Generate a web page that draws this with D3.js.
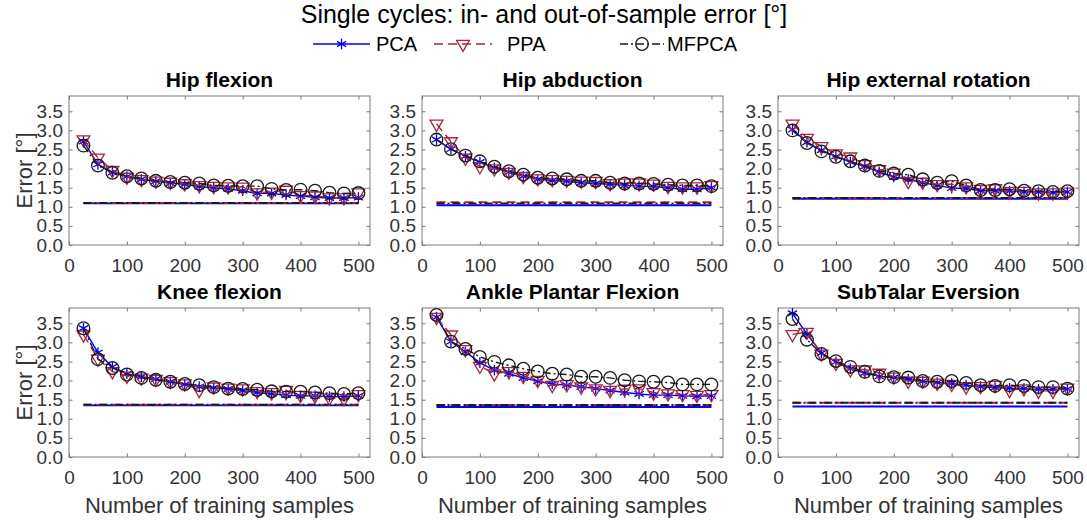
<!DOCTYPE html>
<html>
<head>
<meta charset="utf-8">
<script src="https://d3js.org/d3.v7.min.js"></script>
<style>
  body { margin: 0; background: #fff; }
  text { font-family: "Liberation Sans", Arial, Helvetica, sans-serif; }
</style>
</head>
<body>
<svg id="chart" width="1087" height="524"></svg>
<script>
// number of training samples (x)
var samples = [25, 50, 75, 100, 125, 150, 175, 200, 225, 250, 275, 300, 325, 350, 375, 400, 425, 450, 475, 500];
var joints = ["Hip flexion", "Hip abduction", "Hip external rotation",
              "Knee flexion", "Ankle Plantar Flexion", "SubTalar Eversion"];
var xTicks = [0, 100, 200, 300, 400, 500];
var yTicks = [0, 0.5, 1, 1.5, 2, 2.5, 3, 3.5];

// out-of-sample error per joint
var pcaErr = [
  [2.71, 2.11, 1.90, 1.79, 1.72, 1.67, 1.62, 1.59, 1.53, 1.49, 1.47, 1.42, 1.35, 1.35, 1.31, 1.28, 1.25, 1.23, 1.23, 1.24],
  [2.76, 2.51, 2.32, 2.17, 2.02, 1.91, 1.80, 1.72, 1.69, 1.67, 1.63, 1.61, 1.59, 1.56, 1.54, 1.53, 1.50, 1.46, 1.46, 1.50],
  [3.02, 2.69, 2.48, 2.32, 2.17, 2.06, 1.91, 1.78, 1.72, 1.63, 1.56, 1.49, 1.48, 1.42, 1.42, 1.41, 1.39, 1.39, 1.37, 1.39],
  [3.37, 2.73, 2.36, 2.18, 2.10, 2.04, 1.97, 1.90, 1.84, 1.81, 1.78, 1.74, 1.69, 1.65, 1.62, 1.60, 1.60, 1.58, 1.58, 1.60],
  [3.66, 3.02, 2.75, 2.47, 2.27, 2.18, 2.07, 1.98, 1.91, 1.88, 1.84, 1.79, 1.74, 1.69, 1.65, 1.62, 1.62, 1.60, 1.59, 1.60],
  [3.76, 3.22, 2.72, 2.49, 2.31, 2.20, 2.11, 2.08, 2.03, 1.98, 1.95, 1.92, 1.88, 1.84, 1.82, 1.80, 1.79, 1.77, 1.77, 1.78]
];
var ppaErr = [
  [2.76, 2.28, 1.96, 1.78, 1.72, 1.68, 1.65, 1.61, 1.56, 1.54, 1.53, 1.52, 1.37, 1.39, 1.44, 1.30, 1.29, 1.24, 1.24, 1.37],
  [3.17, 2.71, 2.28, 2.06, 2.00, 1.91, 1.80, 1.74, 1.72, 1.70, 1.68, 1.67, 1.61, 1.63, 1.63, 1.60, 1.54, 1.53, 1.53, 1.56],
  [3.17, 2.80, 2.58, 2.39, 2.31, 2.11, 1.98, 1.89, 1.67, 1.65, 1.59, 1.59, 1.53, 1.46, 1.48, 1.41, 1.41, 1.37, 1.37, 1.39],
  [3.20, 2.57, 2.24, 2.12, 2.07, 2.04, 1.98, 1.92, 1.75, 1.84, 1.81, 1.79, 1.72, 1.69, 1.75, 1.62, 1.60, 1.55, 1.53, 1.64],
  [3.66, 3.20, 2.82, 2.38, 2.18, 2.24, 2.12, 2.01, 1.88, 1.90, 1.84, 1.79, 1.75, 1.78, 1.79, 1.69, 1.66, 1.64, 1.62, 1.64],
  [3.21, 3.27, 2.70, 2.46, 2.29, 2.29, 2.20, 2.10, 1.99, 1.99, 1.94, 1.91, 1.84, 1.85, 1.88, 1.75, 1.79, 1.73, 1.73, 1.81]
];
var mfpcaErr = [
  [2.60, 2.08, 1.89, 1.80, 1.74, 1.68, 1.65, 1.63, 1.61, 1.56, 1.55, 1.54, 1.54, 1.47, 1.44, 1.45, 1.42, 1.37, 1.35, 1.36],
  [2.76, 2.51, 2.34, 2.19, 2.05, 1.93, 1.84, 1.76, 1.74, 1.72, 1.68, 1.68, 1.63, 1.61, 1.61, 1.60, 1.58, 1.56, 1.56, 1.54],
  [3.00, 2.67, 2.45, 2.31, 2.19, 2.08, 1.94, 1.87, 1.84, 1.72, 1.63, 1.67, 1.56, 1.44, 1.44, 1.46, 1.42, 1.41, 1.39, 1.41],
  [3.37, 2.56, 2.33, 2.16, 2.07, 2.02, 1.97, 1.91, 1.88, 1.83, 1.79, 1.78, 1.76, 1.72, 1.71, 1.71, 1.69, 1.67, 1.65, 1.67],
  [3.72, 3.02, 2.83, 2.62, 2.49, 2.40, 2.31, 2.24, 2.18, 2.16, 2.10, 2.10, 2.07, 2.01, 1.98, 1.97, 1.95, 1.90, 1.90, 1.90],
  [3.61, 3.07, 2.70, 2.51, 2.36, 2.23, 2.11, 2.09, 2.08, 1.99, 1.97, 1.99, 1.94, 1.88, 1.86, 1.88, 1.86, 1.83, 1.83, 1.79]
];
// in-sample error (flat lines)
var pcaIn   = [1.09, 1.04, 1.21, 1.35, 1.31, 1.32];
var ppaIn   = [1.10, 1.12, 1.23, 1.37, 1.36, 1.42];
var mfpcaIn = [1.10, 1.09, 1.23, 1.37, 1.36, 1.42];

var methods = ["PCA", "PPA", "MFPCA"];
var colors = {PCA: "#0000ff", PPA: "#ad2438", MFPCA: "#1a1a1a"};
var dashes = {PCA: null, PPA: "9,5", MFPCA: "8,3,2,3"};

var svg = d3.select("#chart");
var colLeft = [69, 422, 778], rowTop = [96, 308];
var pw = 301, ph = 149;

var x = d3.scaleLinear().domain([0, 520]).range([0, pw]);
var y = d3.scaleLinear().domain([0, 3.9]).range([ph, 0]);

var asterisk = d3.symbol().type(d3.symbolAsterisk).size(80)();
var circle = d3.symbol().type(d3.symbolCircle).size(125)();
var triangle = d3.symbol().type(d3.symbolTriangle).size(72)();

function marker(sel, m) {
  var p = sel.append("path").attr("fill", "none").attr("stroke", colors[m]).attr("stroke-width", 1.3);
  if (m == "PCA") p.attr("d", asterisk);
  else if (m == "PPA") p.attr("d", triangle);
  else p.attr("d", circle);
  return p;
}

// main title
svg.append("text").attr("x", 544).attr("y", 23).attr("text-anchor", "middle")
  .style("font-size", "25px").attr("fill", "#000")
  .text("Single cycles: in- and out-of-sample error [°]");

// legend
var legendX = {PCA: [313, 370], PPA: [434, 492], MFPCA: [620, 664]};
var legendText = {PCA: 376, PPA: 507, MFPCA: 667};
methods.forEach(function(m) {
  var lx = legendX[m];
  svg.append("line").attr("x1", lx[0]).attr("x2", lx[1]).attr("y1", 44).attr("y2", 44)
    .attr("stroke", colors[m]).attr("stroke-width", 1.4).attr("stroke-dasharray", dashes[m]);
  var mk = svg.append("g").attr("transform", "translate(" + (lx[0] + lx[1]) / 2 + ",44)");
  marker(mk, m).attr("transform", m == "PPA" ? "rotate(180)" : null);
  svg.append("text").attr("x", legendText[m]).attr("y", 51).style("font-size", "20px")
    .attr("fill", "#000").text(m);
});

var line = d3.line().x(function(d) { return x(d[0]); }).y(function(d) { return y(d[1]); });

joints.forEach(function(name, i) {
  var col = i % 3, row = Math.floor(i / 3);
  var g = svg.append("g").attr("transform", "translate(" + colLeft[col] + "," + rowTop[row] + ")");

  g.append("rect").attr("width", pw).attr("height", ph)
    .attr("fill", "#fff").attr("stroke", "#7a7a7a").attr("stroke-width", 1);

  var xa = g.append("g").attr("transform", "translate(0," + ph + ")")
    .call(d3.axisBottom(x).tickValues(xTicks).tickSize(-3.5).tickPadding(14));
  var ya = g.append("g")
    .call(d3.axisLeft(y).tickValues(yTicks).tickSize(-3.5).tickPadding(6).tickFormat(d3.format(".1f")));
  var ta = g.append("g").call(d3.axisTop(x).tickValues(xTicks).tickSize(-3.5).tickFormat(""));
  var ra = g.append("g").attr("transform", "translate(" + pw + ",0)")
    .call(d3.axisRight(y).tickValues(yTicks).tickSize(-3.5).tickFormat(""));
  [xa, ya, ta, ra].forEach(function(a) {
    a.select(".domain").remove();
    a.selectAll("line").attr("stroke", "#7a7a7a");
    a.selectAll("text").style("font-size", "19px").attr("fill", "#333");
  });

  g.append("text").attr("x", pw / 2).attr("y", -9.5).attr("text-anchor", "middle")
    .style("font-size", "21px").style("font-weight", "bold").attr("fill", "#000").text(name);

  if (row == 1) {
    g.append("text").attr("x", pw / 2).attr("y", ph + 56).attr("text-anchor", "middle")
      .style("font-size", "22px").attr("fill", "#333").text("Number of training samples");
  }
  if (col == 0) {
    g.append("text").attr("transform", "translate(-37," + ph / 2 + ") rotate(-90)")
      .attr("text-anchor", "middle").style("font-size", "22px").attr("fill", "#333").text("Error [°]");
  }

  var series = {PCA: pcaErr[i], PPA: ppaErr[i], MFPCA: mfpcaErr[i]};
  var flat = {PCA: pcaIn[i], PPA: ppaIn[i], MFPCA: mfpcaIn[i]};

  // in-sample flat lines
  methods.forEach(function(m) {
    g.append("path")
      .attr("d", line([[samples[0], flat[m]], [samples[samples.length - 1], flat[m]]]))
      .attr("fill", "none").attr("stroke", colors[m]).attr("stroke-width", 1.9)
      .attr("stroke-dasharray", dashes[m]);
  });

  // out-of-sample curves with markers
  methods.forEach(function(m) {
    var pts = samples.map(function(s, k) { return [s, series[m][k]]; });
    g.append("path").attr("d", line(pts)).attr("fill", "none")
      .attr("stroke", colors[m]).attr("stroke-width", 1.4).attr("stroke-dasharray", dashes[m]);
    g.append("g").selectAll("g").data(pts).enter().append("g")
      .attr("transform", function(d) { return "translate(" + x(d[0]) + "," + y(d[1]) + ")"; })
      .each(function() {
        marker(d3.select(this), m).attr("transform", m == "PPA" ? "rotate(180)" : null);
      });
  });
});
</script>
</body>
</html>
